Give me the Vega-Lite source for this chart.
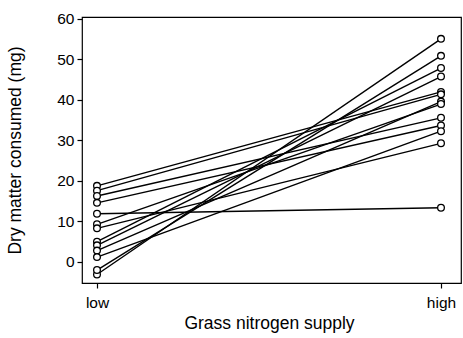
{
  "$schema": "https://vega.github.io/schema/vega-lite/v6.json",
  "width": 379,
  "height": 266,
  "autosize": "none",
  "padding": {"left": 82, "top": 17, "right": 2, "bottom": 55},
  "background": "white",
  "config": {
    "view": {"stroke": "black", "strokeWidth": 1.2},
    "font": "Liberation Sans",
    "axis": {
      "grid": false,
      "domain": false,
      "tickColor": "black",
      "tickSize": 5,
      "tickWidth": 1.2,
      "labelColor": "black",
      "labelFontSize": 15.5,
      "titleColor": "black",
      "titleFontSize": 17.5,
      "titleFontWeight": "normal",
      "labelFont": "Liberation Sans",
      "titleFont": "Liberation Sans"
    }
  },
  "data": {
    "values": [
      {"id": 1, "supply": "low", "dm": -3.2}, {"id": 1, "supply": "high", "dm": 55.0},
      {"id": 2, "supply": "low", "dm": -2.1}, {"id": 2, "supply": "high", "dm": 50.8},
      {"id": 3, "supply": "low", "dm": 4.9}, {"id": 3, "supply": "high", "dm": 47.8},
      {"id": 4, "supply": "low", "dm": 4.0}, {"id": 4, "supply": "high", "dm": 45.7},
      {"id": 5, "supply": "low", "dm": 18.7}, {"id": 5, "supply": "high", "dm": 41.9},
      {"id": 6, "supply": "low", "dm": 17.5}, {"id": 6, "supply": "high", "dm": 41.3},
      {"id": 7, "supply": "low", "dm": 2.7}, {"id": 7, "supply": "high", "dm": 39.5},
      {"id": 8, "supply": "low", "dm": 9.2}, {"id": 8, "supply": "high", "dm": 38.9},
      {"id": 9, "supply": "low", "dm": 11.8}, {"id": 9, "supply": "high", "dm": 13.3},
      {"id": 10, "supply": "low", "dm": 16.2}, {"id": 10, "supply": "high", "dm": 35.5},
      {"id": 11, "supply": "low", "dm": 14.5}, {"id": 11, "supply": "high", "dm": 33.6},
      {"id": 12, "supply": "low", "dm": 1.1}, {"id": 12, "supply": "high", "dm": 32.2},
      {"id": 13, "supply": "low", "dm": 8.2}, {"id": 13, "supply": "high", "dm": 29.2}
    ]
  },
  "encoding": {
    "x": {
      "field": "supply",
      "type": "nominal",
      "sort": ["low", "high"],
      "scale": {"type": "point", "range": [15, 359], "padding": 0},
      "axis": {"title": "Grass nitrogen supply", "labelAngle": 0, "labelPadding": 7}
    },
    "y": {
      "field": "dm",
      "type": "quantitative",
      "scale": {"domain": [-5.3, 60.4], "nice": false, "zero": false},
      "axis": {"title": "Dry matter consumed (mg)", "values": [0, 10, 20, 30, 40, 50, 60], "labelPadding": 3, "titleX": -58}
    }
  },
  "layer": [
    {
      "mark": {"type": "line", "color": "black", "strokeWidth": 1.4},
      "encoding": {"detail": {"field": "id", "type": "nominal"}}
    },
    {
      "mark": {"type": "point", "shape": "circle", "filled": true, "fill": "white", "stroke": "black", "strokeWidth": 1.3, "size": 45, "opacity": 1}
    }
  ]
}
